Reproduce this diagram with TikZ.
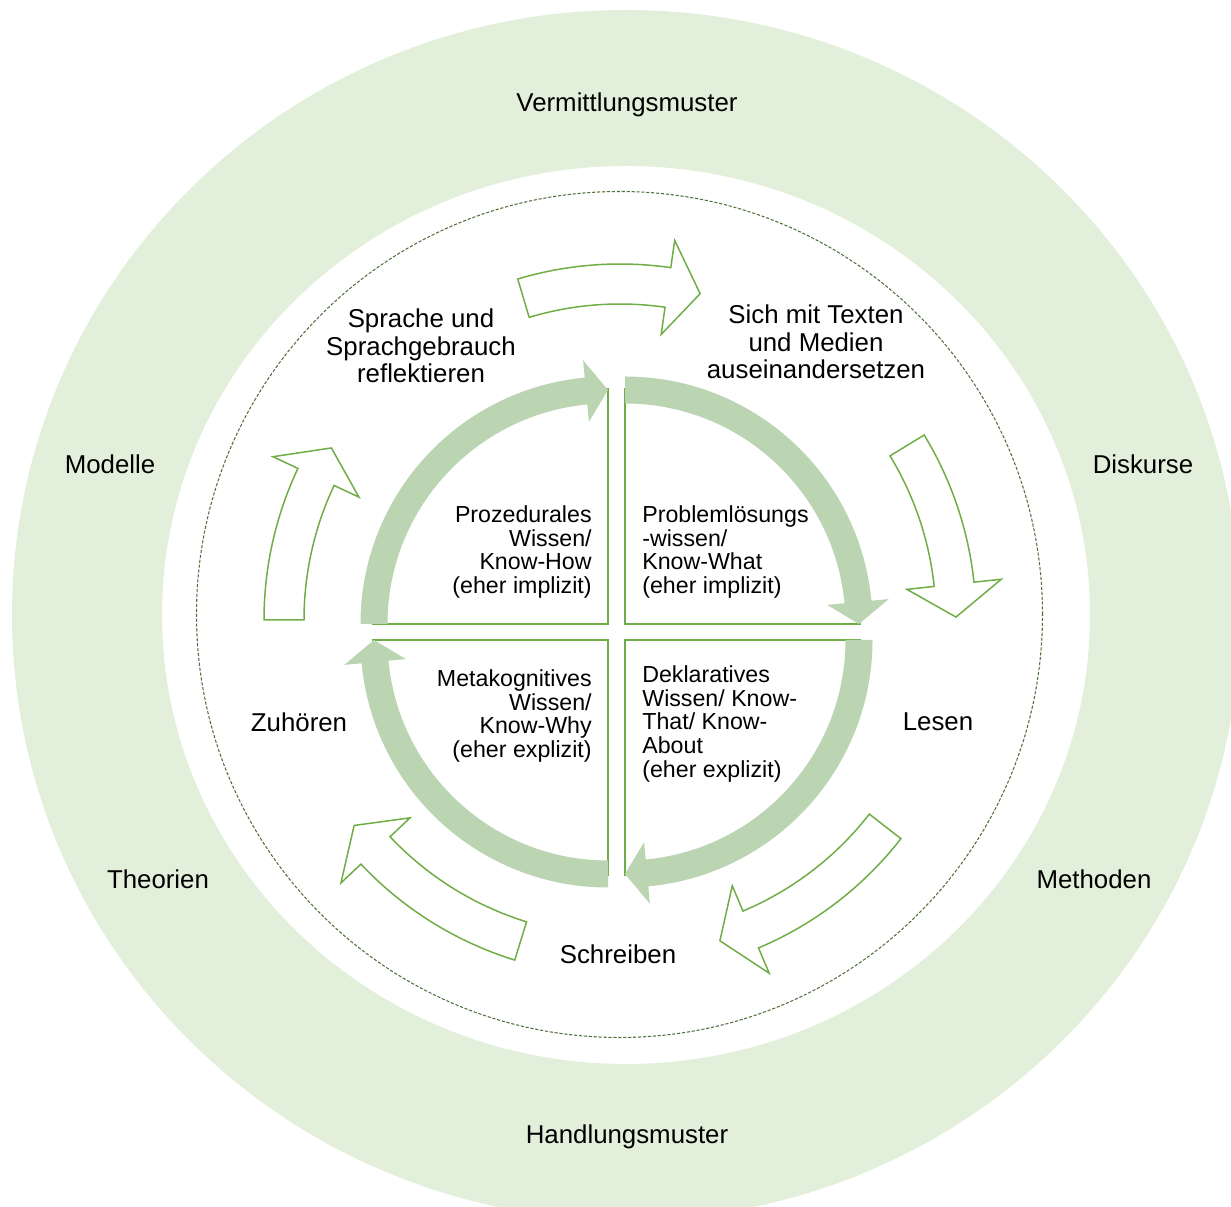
\documentclass[tikz,border=0pt]{standalone}
\usepackage{fontspec}
\setmainfont{Liberation Sans}
\usetikzlibrary{positioning}

\definecolor{ringgreen}{HTML}{E2EFDA}
\definecolor{thickgreen}{RGB}{187,213,179}
\definecolor{linegreen}{HTML}{70AD47}
\definecolor{dashgreen}{RGB}{80,112,62}

% curved block arrow: style, centre, start angle, tip angle,
% inner radius, outer radius, half width of head, angle of head
\newcommand{\arcarrow}[8]{%
  \pgfmathsetmacro{\arcmid}{(#5+#6)/2}%
  \pgfmathsetmacro{\archead}{#4+#8}%
  \pgfmathsetmacro{\archout}{(#5+#6)/2+#7}%
  \pgfmathsetmacro{\archin}{(#5+#6)/2-#7}%
  \path[#1] ([shift={(#3:#6)}]#2) arc[start angle=#3, end angle=\archead, radius=#6]
    -- ([shift={(\archead:\archout)}]#2)
    -- ([shift={(#4:\arcmid)}]#2)
    -- ([shift={(\archead:\archin)}]#2)
    -- ([shift={(\archead:#5)}]#2)
    arc[start angle=\archead, end angle=#3, radius=#5] -- cycle;}

\begin{document}
\begin{tikzpicture}[x=0.02cm, y=0.02cm,
    bigtext/.style={font=\fontsize{14.7}{15.5}\selectfont, align=center, inner sep=0pt},
    smalltext/.style={font=\fontsize{13.2}{13.6}\selectfont, inner sep=0pt},
    blockarrow/.style={draw=linegreen, line width=0.85pt, fill=white, line join=miter},
    ringarrow/.style={fill=thickgreen},
    quadline/.style={draw=linegreen, line width=1.1pt}]
  \useasboundingbox (0,0) rectangle (1231,1207);
  \clip (0,0) rectangle (1231,1207);

  % rings
  \fill[ringgreen, even odd rule] (626,592) ellipse[x radius=614, y radius=605]
    (626,592) ellipse[x radius=464, y radius=449];
  \draw[dashgreen, line width=0.6pt, dash pattern=on 1.8pt off 1pt] (619.5,592.5) circle[radius=423];

  \coordinate (ctr) at (620,587);
  \coordinate (tl_corner) at (608,583);
  \coordinate (tr_corner) at (625,583);
  \coordinate (br_corner) at (625,567);
  \coordinate (bl_corner) at (608,567);

  % outer cycle of block arrows
  \arcarrow{blockarrow}{ctr}{106.7}{76.2}{316}{356}{47.5}{5.6}
  \arcarrow{blockarrow}{ctr}{31.3}{0.5}{316}{356}{47.5}{5.6}
  \arcarrow{blockarrow}{ctr}{-37.9}{-72.7}{316}{356}{47.5}{5.6}
  \arcarrow{blockarrow}{ctr}{252.8}{217.7}{316}{356}{47.5}{5.6}
  \arcarrow{blockarrow}{ctr}{180}{149.2}{316}{356}{47.5}{5.6}

  % quadrants
  \draw[quadline] ([shift={(90:236)}]tl_corner) -- (tl_corner) -- ([shift={(180:236)}]tl_corner);
  \draw[quadline] ([shift={(90:236)}]tr_corner) -- (tr_corner) -- ([shift={(0:236)}]tr_corner);
  \draw[quadline] ([shift={(0:236)}]br_corner) -- (br_corner) -- ([shift={(270:236)}]br_corner);
  \draw[quadline] ([shift={(270:236)}]bl_corner) -- (bl_corner) -- ([shift={(180:236)}]bl_corner);

  \arcarrow{ringarrow}{tl_corner}{180}{90}{220.5}{247.5}{31}{5.4}
  \arcarrow{ringarrow}{tr_corner}{90}{0}{220.5}{247.5}{31}{5.4}
  \arcarrow{ringarrow}{br_corner}{0}{-90}{220.5}{247.5}{31}{5.4}
  \arcarrow{ringarrow}{bl_corner}{270}{180}{220.5}{247.5}{31}{5.4}

  % labels
  \node[bigtext] (vermittlungs_muster) at (627,1102) {Vermittlungsmuster};
  \node[bigtext] (handlungs_muster) at (627,70) {Handlungsmuster};
  \node[bigtext] (modelle) at (110,743) {Modelle};
  \node[bigtext] (diskurse) at (1143,743) {Diskurse};
  \node[bigtext] (theorien) at (158,328) {Theorien};
  \node[bigtext] (methoden) at (1094,328) {Methoden};

  \node[bigtext] (sprache_reflektieren) at (421,861) {Sprache und\\Sprachgebrauch\\reflektieren};
  \node[bigtext] (texte_medien) at (816,865) {Sich mit Texten\\und Medien\\auseinandersetzen};
  \node[bigtext] (lesen) at (938,485) {Lesen};
  \node[bigtext] (schreiben) at (618,253) {Schreiben};
  \node[bigtext] (zuhoeren) at (299,485) {Zuhören};

  \node[smalltext, anchor=east, align=right] (prozedural) at (592,655)
    {Prozedurales\\Wissen/\\Know-How\\(eher implizit)};
  \node[smalltext, anchor=west, align=left] (problemloesung) at (642,655)
    {Problemlösungs\\-wissen/\\Know-What\\(eher implizit)};
  \node[smalltext, anchor=east, align=right] (metakognitiv) at (592,491)
    {Metakognitives\\Wissen/\\Know-Why\\(eher explizit)};
  \node[smalltext, anchor=west, align=left] (deklarativ) at (642,483)
    {Deklaratives\\Wissen/ Know-\\That/ Know-\\About\\(eher explizit)};
\end{tikzpicture}
\end{document}
